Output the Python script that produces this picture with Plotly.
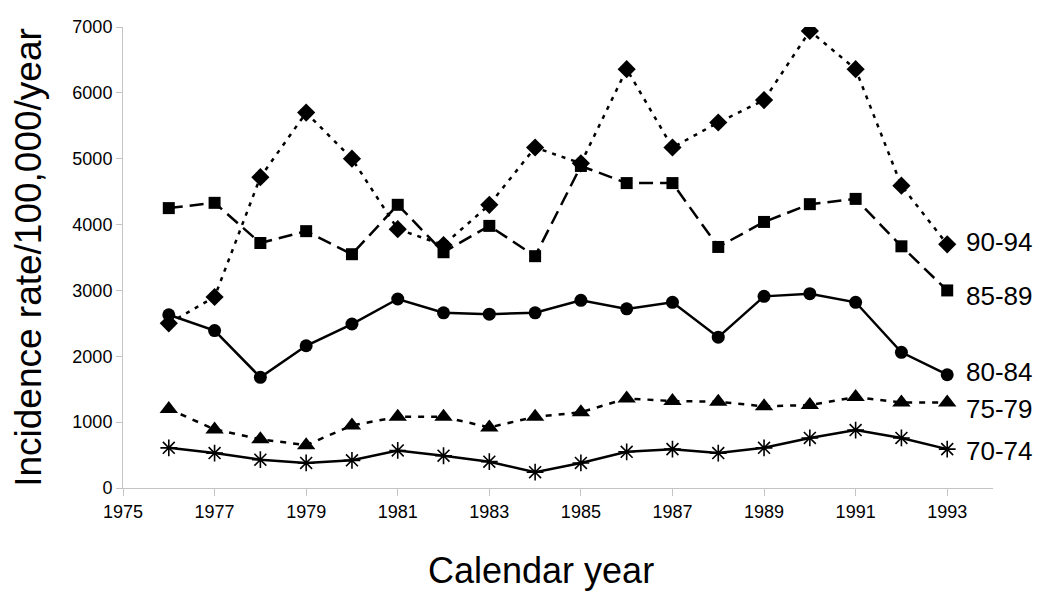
import plotly.graph_objects as go

years = list(range(1976, 1994))

age_groups = ["90-94", "85-89", "80-84", "75-79", "70-74"]

rate_90_94 = [2500, 2900, 4720, 5700, 5000, 3930, 3690, 4300, 5170, 4930, 6360, 5170, 5550, 5890, 6940, 6360, 4590, 3700]
rate_85_89 = [4250, 4330, 3720, 3900, 3550, 4300, 3580, 3980, 3520, 4890, 4630, 4630, 3660, 4040, 4310, 4390, 3670, 3000]
rate_80_84 = [2630, 2390, 1680, 2160, 2490, 2870, 2660, 2640, 2660, 2850, 2720, 2820, 2290, 2910, 2950, 2820, 2060, 1720]
rate_75_79 = [1200, 890, 740, 650, 950, 1080, 1080, 920, 1080, 1150, 1360, 1320, 1310, 1240, 1260, 1380, 1300, 1300]
rate_70_74 = [610, 530, 430, 380, 420, 570, 490, 400, 240, 380, 550, 590, 530, 610, 760, 880, 760, 590]

label_y = [3735, 2915, 1761, 1200, 562]

series = [rate_90_94, rate_85_89, rate_80_84, rate_75_79, rate_70_74]
styles = [
    dict(dash="4px,6px", symbol="diamond", size=14, lw=2.5),
    dict(dash="14px,7px", symbol="square", size=12, lw=2.5),
    dict(dash="solid", symbol="circle", size=13, lw=2.5),
    dict(dash="6px,7px", symbol="triangle-up", size=16, lw=2.5),
    dict(dash="solid", symbol="asterisk-open", size=14, lw=2.5),
]

fig = go.Figure()
for name, vals, st in zip(age_groups, series, styles):
    marker = dict(symbol=st["symbol"], size=st["size"], color="black")
    if st["symbol"] == "asterisk-open":
        marker["line"] = dict(color="black", width=1.6)
    fig.add_trace(go.Scatter(
        x=years, y=vals, mode="lines+markers", name=name,
        line=dict(color="black", width=st["lw"], dash=st["dash"]),
        marker=marker, showlegend=False,
    ))

font_family = "Liberation Sans, Arial"
for name, ly in zip(age_groups, label_y):
    fig.add_annotation(x=years[-1], y=ly, xref="x", yref="y", text=name,
                       showarrow=False, xanchor="left", yanchor="middle",
                       xshift=17, font=dict(family=font_family, size=26, color="black"))

fig.add_annotation(x=0.4805, y=0, xref="paper", yref="paper", text="Calendar year",
                   showarrow=False, xanchor="center", yanchor="middle", yshift=-82,
                   font=dict(family=font_family, size=36, color="black"))

fig.update_layout(
    width=1042, height=589,
    margin=dict(l=115, r=57, t=19, b=109),
    plot_bgcolor="white", paper_bgcolor="white",
    font=dict(family=font_family, color="black"),
    xaxis=dict(
        range=[1975, 1994], tickmode="linear", tick0=1975, dtick=2,
        showgrid=False, zeroline=False, showline=True, linecolor="#c4c4c4", linewidth=1,
        ticks="outside", ticklen=7, tickcolor="#c4c4c4", tickwidth=1,
        tickfont=dict(size=18, color="black"),
    ),
    yaxis=dict(
        range=[0, 7000], tickmode="linear", tick0=0, dtick=1000,
        showgrid=False, zeroline=False, showline=True, linecolor="#c4c4c4", linewidth=1,
        ticks="outside", ticklen=6, tickcolor="#c4c4c4", tickwidth=1,
        tickfont=dict(size=18, color="black"),
        automargin=False,
        title=dict(text="Incidence rate/100,000/year", standoff=34,
                   font=dict(family=font_family, size=37, color="black")),
    ),
)

fig.write_html("out.html")
